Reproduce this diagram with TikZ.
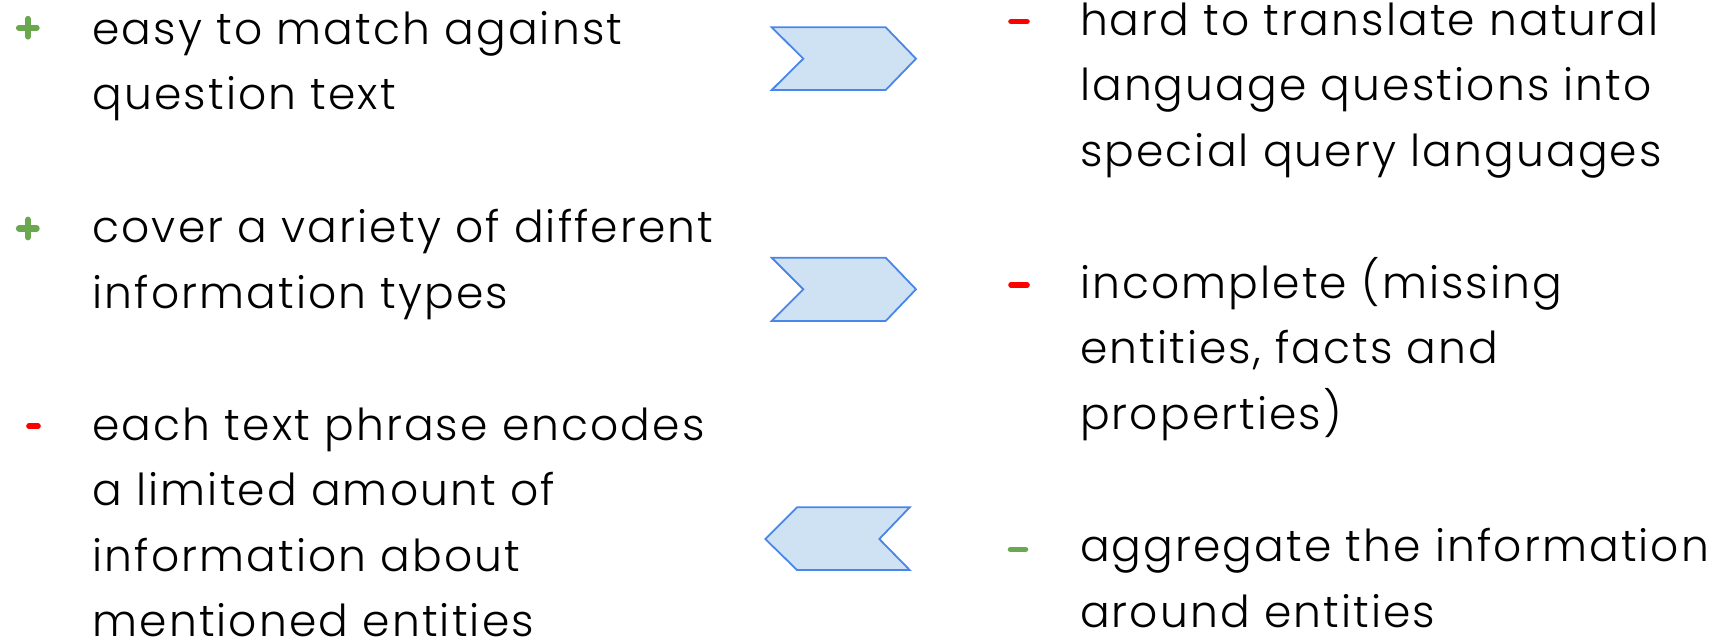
\documentclass[tikz,border=0pt]{standalone}
\usepackage{fontspec}
\IfFontExistsTF{Poppins Light}{\setmainfont[LetterSpace=4.8]{Poppins Light}}{\setmainfont[LetterSpace=4.8]{Poppins}}
\definecolor{proGreen}{HTML}{6AA84F}
\definecolor{conRed}{HTML}{FF0000}
\definecolor{chevFill}{HTML}{CFE2F3}
\definecolor{chevLine}{HTML}{4A86E8}
\tikzset{
  itemtext/.style={anchor=base west, inner sep=0pt, outer sep=0pt, font=\fontsize{44}{65.6}\selectfont},
  chev/.style={draw=chevLine, fill=chevFill, line width=1.8pt, line join=miter},
  plusmark/.style={draw=proGreen, line width=6.2pt, line cap=round},
  dashmark/.style={line width=5.6pt, line cap=round},
}
\newcommand{\lines}[1]{\begin{tabular}[t]{@{}l@{}}#1\end{tabular}}
\begin{document}
\begin{tikzpicture}[x=1pt,y=-1pt]
\useasboundingbox (0,0) rectangle (1733,640);
% markers
\draw[plusmark] (19,27.7) -- (36.6,27.7) (27.8,18.9) -- (27.8,36.5);
\draw[plusmark] (19,228.5) -- (36.6,228.5) (27.8,219.7) -- (27.8,237.3);
\draw[dashmark, draw=conRed] (29,426) -- (38,426);
\draw[dashmark, draw=conRed] (1011,21.5) -- (1027,21.5);
\draw[dashmark, draw=conRed] (1011,285) -- (1027,285);
\draw[dashmark, draw=proGreen] (1010.5,549.5) -- (1025.5,549.5);
% left texts
\node[itemtext] (l1) at (92.5,44.3) {\lines{easy to match against\\question text}};
\node[itemtext] (l2) at (92.5,242.7) {\lines{cover a variety of different\\information types}};
\node[itemtext] (l3) at (92.5,440) {\lines{each text phrase encodes\\a limited amount of\\information about\\mentioned entities}};
% right texts
\node[itemtext] (r1) at (1080,35) {\lines{hard to translate natural\\language questions into\\special query languages}};
\node[itemtext] (r2) at (1080,298.3) {\lines{incomplete (missing\\entities, facts and\\properties)}};
\node[itemtext] (r3) at (1080,561.7) {\lines{aggregate the information\\around entities}};
% chevrons
\draw[chev] (771.7,27.3) -- (885.7,27.3) -- (916,58.7) -- (885.7,90) -- (771.7,90) -- (803.3,58.7) -- cycle;
\draw[chev] (771.7,257.7) -- (885.7,257.7) -- (916,289.3) -- (885.7,321) -- (771.7,321) -- (803.3,289.3) -- cycle;
\draw[chev] (797,507.3) -- (909.7,507.3) -- (879.3,539) -- (909.7,570) -- (797,570) -- (765.3,539) -- cycle;
\end{tikzpicture}
\end{document}
